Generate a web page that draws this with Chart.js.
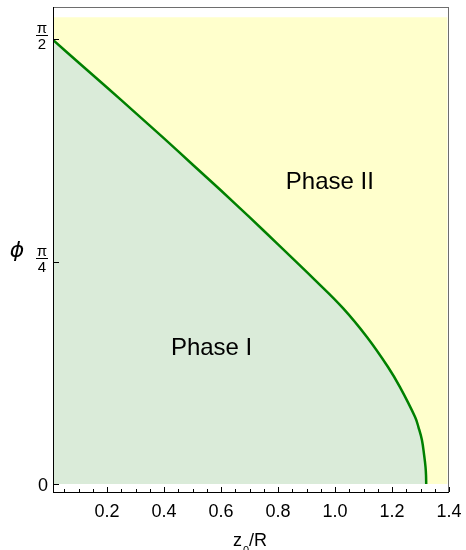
<!DOCTYPE html>
<html lang="en">
<head>
    <meta charset="UTF-8">
    <title>Phase diagram</title>
    <script src="https://cdn.jsdelivr.net/npm/chart.js"></script>
    <style>
        *{
            margin: 0;
            padding: 0;
        }
        body{
            background-color: white;
        }
        canvas{
            display: block;
        }
    </style>
</head>
<body>
    <canvas id="chart" width="466" height="550"></canvas>
    <script>
        // boundary between the two phases
        const zValues = [0.0105, 0.1, 0.2, 0.3, 0.4, 0.5, 0.6, 0.7, 0.8, 0.93, 1.028, 1.112, 1.186, 1.228, 1.281, 1.293, 1.305, 1.313, 1.3176, 1.3194, 1.32]
        const phiValues = [1.568, 1.488, 1.400, 1.310, 1.220, 1.128, 1.036, 0.942, 0.846, 0.720, 0.621, 0.519, 0.413, 0.342, 0.2365, 0.200, 0.155, 0.100, 0.060, 0.030, 0]

        // shaded region of the plot (Phase II fills the rest of it)
        const regionZ = [0.0105, 1.395]
        const regionTop = [1.648, 1.648]

        const xRange = [0.0105, 1.4]
        const yRange = [-0.0318, 1.684]
        const xTickValues = [0.2, 0.4, 0.6, 0.8, 1.0, 1.2, 1.4]
        const xMinorStep = 0.05
        const yTickValues = [0, Math.PI / 4, Math.PI / 2]
        const yTickLabels = [["0"], ["π", "4"], ["π", "2"]]

        const phaseLabels = ["Phase I", "Phase II"]
        const phaseLabelPos = [[0.567, 0.48], [0.982, 1.066]]

        const FONT = '"Liberation Sans", Arial, sans-serif'

        const boundary = zValues.map((z, i) => ({x: z, y: phiValues[i]}))
        const region = regionZ.map((z, i) => ({x: z, y: regionTop[i]}))

        const decorations = {
            id: "decorations",
            afterDraw(chart){
                const ctx = chart.ctx
                const xs = chart.scales.x
                const ys = chart.scales.y
                const a = chart.chartArea
                const L = Math.round(a.left), R = Math.round(a.right)
                const T = Math.round(a.top), B = Math.round(a.bottom)
                ctx.save()

                // frame: dark on the left and bottom, grey on top and right
                ctx.fillStyle = "#6e6e6e"
                ctx.fillRect(L, T, R - L, 1)
                ctx.fillRect(R - 1, T, 1, B - T)
                ctx.fillStyle = "#000000"
                ctx.fillRect(L, T, 1, B - T)
                ctx.fillRect(L, B - 1, R - L, 1)

                // inward ticks
                for (let v = xMinorStep; v <= xRange[1] + 1e-9; v += xMinorStep){
                    const px = Math.round(xs.getPixelForValue(v))
                    const major = Math.abs(v / 0.2 - Math.round(v / 0.2)) < 1e-6
                    const len = major ? 5 : 3
                    ctx.fillRect(px, B - 1 - len, 1, len)
                }
                yTickValues.forEach(v => {
                    const py = Math.round(ys.getPixelForValue(v))
                    ctx.fillRect(L + 1, py, 5, 1)
                })

                // x tick labels
                ctx.font = "18px " + FONT
                ctx.textAlign = "center"
                ctx.textBaseline = "alphabetic"
                xTickValues.forEach(v => {
                    ctx.fillText(v.toFixed(1), xs.getPixelForValue(v), 517)
                })

                // y tick labels, fractions of pi
                yTickValues.forEach((v, i) => {
                    const py = ys.getPixelForValue(v)
                    const lab = yTickLabels[i]
                    if (lab.length == 1){
                        ctx.font = "18px " + FONT
                        ctx.textAlign = "right"
                        ctx.textBaseline = "alphabetic"
                        ctx.fillText(lab[0], 48, py + 7.5)
                    } else {
                        const bar = Math.round(py - 4)
                        ctx.font = "15px " + FONT
                        ctx.textAlign = "center"
                        ctx.textBaseline = "alphabetic"
                        ctx.fillText(lab[0], 42, bar - 2)
                        ctx.fillText(lab[1], 42, bar + 14)
                        ctx.fillRect(36, bar, 12, 1)
                    }
                })

                // axis titles
                ctx.font = 'italic 22px "DejaVu Sans", sans-serif'
                ctx.textAlign = "center"
                ctx.textBaseline = "middle"
                ctx.fillText("ϕ", 17, 251)

                ctx.textAlign = "left"
                ctx.textBaseline = "alphabetic"
                ctx.font = "18px " + FONT
                ctx.fillText("z", 233, 546)
                ctx.font = "11px " + FONT
                ctx.fillText("0", 243, 554)
                ctx.font = "18px " + FONT
                ctx.fillText("/R", 249, 546)

                // phase names
                ctx.font = "24px " + FONT
                ctx.textAlign = "center"
                ctx.textBaseline = "middle"
                phaseLabels.forEach((t, i) => {
                    ctx.fillText(t, xs.getPixelForValue(phaseLabelPos[i][0]), ys.getPixelForValue(phaseLabelPos[i][1]))
                })
                ctx.restore()
            }
        }

        const config = {
            type: "line",
            data: {
                datasets: [{
                    label: "boundary",
                    data: boundary,
                    borderColor: "rgb(0, 128, 0)",
                    borderWidth: 2.5,
                    backgroundColor: "rgb(218, 235, 217)",
                    fill: "origin",
                    pointRadius: 0,
                    tension: 0.4
                },
                {
                    label: "region",
                    data: region,
                    borderWidth: 0,
                    borderColor: "rgba(0,0,0,0)",
                    backgroundColor: "rgb(255, 255, 204)",
                    fill: "origin",
                    pointRadius: 0
                }]
            },
            options: {
                responsive: false,
                animation: false,
                layout: {
                    padding: {left: 0, top: 7, right: 17, bottom: 0}
                },
                plugins: {
                    legend: {display: false},
                    tooltip: {enabled: false}
                },
                scales: {
                    x: {
                        type: "linear",
                        min: xRange[0],
                        max: xRange[1],
                        grid: {display: false, drawTicks: false},
                        border: {display: false},
                        ticks: {display: false},
                        afterFit: scale => {
                            scale.height = 57
                        }
                    },
                    y: {
                        type: "linear",
                        min: yRange[0],
                        max: yRange[1],
                        grid: {display: false, drawTicks: false},
                        border: {display: false},
                        ticks: {display: false},
                        afterFit: scale => {
                            scale.width = 53
                        }
                    }
                }
            },
            plugins: [decorations]
        }

        const chart = new Chart(document.getElementById("chart"), config)
    </script>
</body>
</html>
